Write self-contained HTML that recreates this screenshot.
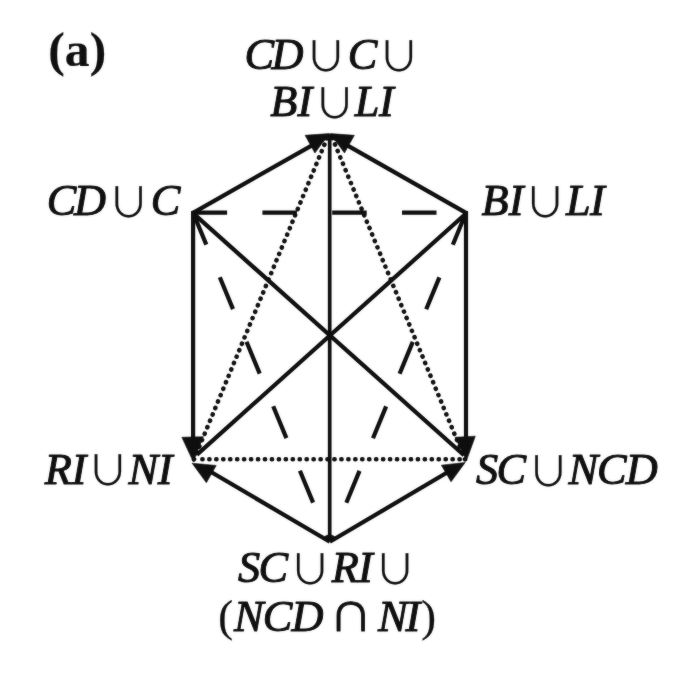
<!DOCTYPE html>
<html lang="en"><head><meta charset="utf-8"><title>Figure (a)</title>
<style>
html,body{margin:0;padding:0;background:#fff;}
body{width:691px;height:680px;overflow:hidden;}
svg{display:block;}
text{white-space:pre;}
.i{font-family:'Liberation Serif',serif;font-style:italic;stroke:#0e0e0e;stroke-width:1.0px;stroke-linejoin:round;}
.u{font-family:'Noto Sans CJK SC','Noto Sans CJK JP','DejaVu Sans',sans-serif;font-weight:350;stroke:#0e0e0e;stroke-width:0.2px;}
.b{font-family:'Liberation Serif',serif;font-weight:bold;stroke:#0e0e0e;stroke-width:0.2px;}
.p{font-family:'Liberation Serif',serif;stroke:#0e0e0e;stroke-width:0.3px;stroke-linejoin:round;}
.n{font-family:'WenQuanYi Zen Hei','Noto Sans CJK SC','DejaVu Sans',sans-serif;stroke:#0e0e0e;stroke-width:0.8px;stroke-linejoin:round;}
</style></head>
<body>
<svg width="691" height="680" viewBox="0 0 691 680">
<defs>
<filter id="soft" x="0" y="0" width="691" height="680" filterUnits="userSpaceOnUse" color-interpolation-filters="sRGB">
<feGaussianBlur in="SourceGraphic" stdDeviation="1" result="b"/>
<feComposite in="SourceGraphic" in2="b" operator="arithmetic" k1="0" k2="0.7" k3="0.3" k4="0"/>
</filter>
</defs>
<g filter="url(#soft)">
<rect width="691" height="680" fill="#fff"/>
<g stroke="#0e0e0e" stroke-width="4.2" fill="none" stroke-linecap="butt">
<line x1="193.10" y1="212.80" x2="329.70" y2="135.30" />
<line x1="466.00" y1="212.80" x2="329.70" y2="135.30" />
<line x1="193.10" y1="211.00" x2="193.10" y2="445.00" />
<line x1="466.00" y1="211.00" x2="466.00" y2="445.00" />
<line x1="329.80" y1="541.80" x2="200.00" y2="465.50" />
<line x1="329.80" y1="541.80" x2="459.00" y2="465.50" />
<line x1="329.70" y1="134.00" x2="329.70" y2="541.50" stroke-width="3.7"/>
<line x1="193.00" y1="213.10" x2="464.00" y2="455.20" />
<line x1="466.00" y1="213.50" x2="197.00" y2="454.60" />
<line x1="192.60" y1="212.70" x2="466.00" y2="212.70" stroke-dasharray="34.5 35.3"/>
<line x1="193.10" y1="212.80" x2="328.30" y2="539.30" stroke-dasharray="34.5 35.3"/>
<line x1="466.00" y1="212.80" x2="331.30" y2="539.30" stroke-dasharray="34.5 35.3"/>
<line x1="194.00" y1="459.50" x2="328.00" y2="136.00" stroke-width="4.5" stroke-dasharray="0.3 6.65" stroke-linecap="round"/>
<line x1="465.00" y1="459.50" x2="331.50" y2="136.00" stroke-width="4.5" stroke-dasharray="0.3 6.65" stroke-linecap="round"/>
<line x1="202.30" y1="459.20" x2="466.00" y2="459.20" stroke-width="4.5" stroke-dasharray="0.3 6.65" stroke-linecap="round"/>
</g>
<g fill="#0e0e0e" stroke="#0e0e0e" stroke-width="0.6" stroke-linejoin="round">
<polygon points="329.30,133.60 314.89,153.10 305.11,135.30"/>
<polygon points="330.30,133.60 354.33,135.33 344.47,153.07"/>
<polygon points="193.30,461.80 181.85,437.30 203.35,436.70"/>
<polygon points="466.50,460.50 455.07,437.25 475.33,436.15"/>
<polygon points="192.10,463.20 216.21,465.45 206.39,482.75"/>
<polygon points="465.20,462.50 451.04,481.85 441.36,465.15"/>
</g>
<g fill="#0e0e0e">
<text><tspan class="b" x="48.20" y="66.00" font-size="49.5" letter-spacing="0.17">(a)</tspan></text>
<text><tspan class="i" x="244.40" y="68.50" font-size="44.3" letter-spacing="-2.33">CD</tspan><tspan class="u" x="305.43" y="70.70" font-size="40.8">∪</tspan><tspan class="i" x="347.80" y="68.50" font-size="44.3">C</tspan><tspan class="u" x="378.53" y="70.70" font-size="40.8">∪</tspan></text>
<text><tspan class="i" x="270.20" y="116.00" font-size="44.3" letter-spacing="0.20">BI</tspan><tspan class="u" x="314.23" y="118.40" font-size="40.8">∪</tspan><tspan class="i" x="354.70" y="116.00" font-size="44.3" letter-spacing="-0.37">LI</tspan></text>
<text><tspan class="i" x="46.70" y="215.00" font-size="44.3" letter-spacing="-2.33">CD</tspan><tspan class="u" x="108.23" y="217.30" font-size="40.8">∪</tspan><tspan class="i" x="150.70" y="215.00" font-size="44.3">C</tspan></text>
<text><tspan class="i" x="481.40" y="215.00" font-size="44.3" letter-spacing="0.30">BI</tspan><tspan class="u" x="524.83" y="217.20" font-size="40.8">∪</tspan><tspan class="i" x="565.90" y="215.00" font-size="44.3" letter-spacing="-0.47">LI</tspan></text>
<text><tspan class="i" x="44.67" y="483.60" font-size="44.3" letter-spacing="-0.17">RI</tspan><tspan class="u" x="87.43" y="485.40" font-size="40.8">∪</tspan><tspan class="i" x="128.43" y="483.80" font-size="44.3" letter-spacing="-0.23">NI</tspan></text>
<text><tspan class="i" x="476.00" y="484.00" font-size="44.3" letter-spacing="-1.67">SC</tspan><tspan class="u" x="528.03" y="486.00" font-size="40.8">∪</tspan><tspan class="i" x="568.43" y="484.00" font-size="44.3" letter-spacing="-0.93">NCD</tspan></text>
<text><tspan class="i" x="237.90" y="581.50" font-size="44.3" letter-spacing="-1.57">SC</tspan><tspan class="u" x="289.73" y="583.80" font-size="40.8">∪</tspan><tspan class="i" x="331.77" y="581.50" font-size="44.3" letter-spacing="-0.87">RI</tspan><tspan class="u" x="374.63" y="583.80" font-size="40.8">∪</tspan></text>
<text><tspan class="p" x="218.37" y="630.80" font-size="44.3">(</tspan><tspan class="i" x="233.93" y="630.80" font-size="44.3" letter-spacing="-0.78">NCD</tspan><tspan class="p" font-size="20"> </tspan><tspan class="n" x="332.37" y="630.60" font-size="44.5">∩</tspan><tspan class="p" font-size="20"> </tspan><tspan class="i" x="378.03" y="630.80" font-size="44.3" letter-spacing="-2.03">NI</tspan><tspan class="p" x="421.37" y="630.80" font-size="44.3">)</tspan></text>
</g>
</g>
</svg>
</body></html>
